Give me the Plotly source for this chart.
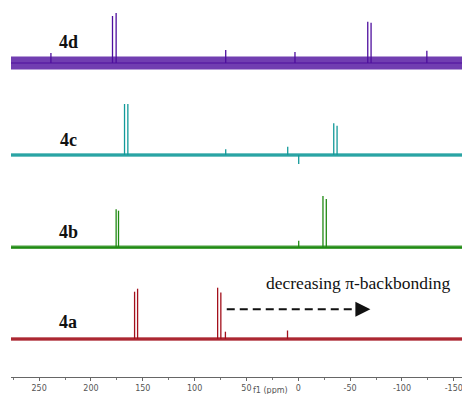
import plotly.graph_objects as go

# ---------------- data ----------------
spectra = ["4a", "4b", "4c", "4d"]

ppm_4a = [157.9, 155.0, 77.8, 74.7, 70.3, 10.4]
int_4a = [47.3, 50.3, 51.3, 46.5, 7.3, 8.5]

ppm_4b = [175.7, 173.4, -23.8, -27.0, -0.4]
int_4b = [38.0, 36.6, 51.3, 48.3, 6.6]

ppm_4c = [167.6, 164.4, -34.2, -37.4, 10.2, 70.0, -0.4]
int_4c = [51.0, 51.0, 31.7, 29.3, 8.3, 5.7, -9.0]

ppm_4d = [179.2, 175.7, -67.0, -70.2, 238.6, 70.0, 3.2, -124.0]
int_4d = [47.0, 50.0, 41.3, 40.3, 10.0, 13.0, 11.0, 12.3]

tick_vals = [250, 200, 150, 100, 50, 0, -50, -100, -150]
tick_text = ["250", "200", "150", "100", "50", "0", "-50", "-100", "-150"]

arrow_text = "decreasing π-backbonding"
x_title = "f1 (ppm)"

# ---------------- styling / layout ----------------
W, H = 462, 394
M_L, M_B = 11, 17
PLOT_H = H - M_B
X_RANGE = [277.1, -157.9]

colors = {"4a": "#a3101c", "4b": "#1f8a12", "4c": "#139a9a", "4d": "#4e0e9e"}
band_w = {"4a": 3.5, "4b": 3.5, "4c": 3.5, "4d": 13}
baseline_px = {"4a": 339, "4b": 247.3, "4c": 155, "4d": 63}
label_h = {"4a": 17, "4b": 15.6, "4c": 15, "4d": 21}

data = {"4a": (ppm_4a, int_4a), "4b": (ppm_4b, int_4b),
        "4c": (ppm_4c, int_4c), "4d": (ppm_4d, int_4d)}

fig = go.Figure()
layout_axes = {}
annotations = []

for i, name in enumerate(spectra):
    yname = "y" if i == 0 else f"y{i+1}"
    axkey = "yaxis" if i == 0 else f"yaxis{i+1}"
    b = baseline_px[name]
    lo, hi = -(PLOT_H - b), b
    ax = dict(range=[lo, hi], visible=False, fixedrange=True)
    if i > 0:
        ax["overlaying"] = "y"
    layout_axes[axkey] = ax

    col = colors[name]
    # baseline noise band
    fig.add_trace(go.Scatter(x=X_RANGE, y=[0, 0], mode="lines", yaxis=yname,
                             line=dict(color=col, width=band_w[name]),
                             opacity=0.8, hoverinfo="skip", showlegend=False))
    fig.add_trace(go.Scatter(x=X_RANGE, y=[0, 0], mode="lines", yaxis=yname,
                             line=dict(color=col, width=1.2),
                             hoverinfo="skip", showlegend=False))
    # peaks as sticks
    px, py = [], []
    for p, h in zip(*data[name]):
        px += [p, p, None]
        py += [0, h, None]
    fig.add_trace(go.Scatter(x=px, y=py, mode="lines", yaxis=yname,
                             line=dict(color=col, width=1.3),
                             showlegend=False, name=name))
    annotations.append(dict(x=222, y=label_h[name], xref="x", yref=yname,
                            text=f"<b>{name}</b>", showarrow=False,
                            font=dict(family="Liberation Serif", size=18, color="#111")))

# dashed arrow on the 4a panel
fig.add_trace(go.Scatter(x=[69, -60], y=[29.7, 29.7], mode="lines", yaxis="y",
                         line=dict(color="#111", width=2, dash="8px,5px"),
                         hoverinfo="skip", showlegend=False))
annotations.append(dict(x=-69.5, y=29.7, ax=-59, ay=29.7, xref="x", yref="y",
                        axref="x", ayref="y", showarrow=True, arrowhead=2,
                        arrowsize=1.5, arrowwidth=2, arrowcolor="#111", text=""))
annotations.append(dict(x=-58, y=55.7, xref="x", yref="y", text=arrow_text,
                        showarrow=False,
                        font=dict(family="Liberation Serif", size=17.5, color="#111")))
annotations.append(dict(x=27, y=0, xref="x", yref="paper", yshift=-13,
                        text=x_title, showarrow=False, yanchor="middle",
                        font=dict(family="DejaVu Sans", size=8, color="#555")))

fig.update_layout(
    width=W, height=H,
    margin=dict(l=M_L, r=0, t=0, b=M_B, pad=0, autoexpand=False),
    paper_bgcolor="white", plot_bgcolor="white",
    annotations=annotations,
    xaxis=dict(range=X_RANGE, tickmode="array", tickvals=tick_vals, ticktext=tick_text,
               showgrid=False, zeroline=False, showline=True, linecolor="#666",
               linewidth=1, ticks="outside", ticklen=3, tickcolor="#666",
               automargin=False, ticklabeloverflow="allow",
               tickfont=dict(family="DejaVu Sans", size=8, color="#555"),
               minor=dict(dtick=25, tick0=0, ticks="outside", ticklen=2, tickcolor="#777"),
               fixedrange=True),
    **layout_axes,
)

fig.write_html("out.html", post_script="document.body.style.margin='0';",
               config={"displayModeBar": False})
